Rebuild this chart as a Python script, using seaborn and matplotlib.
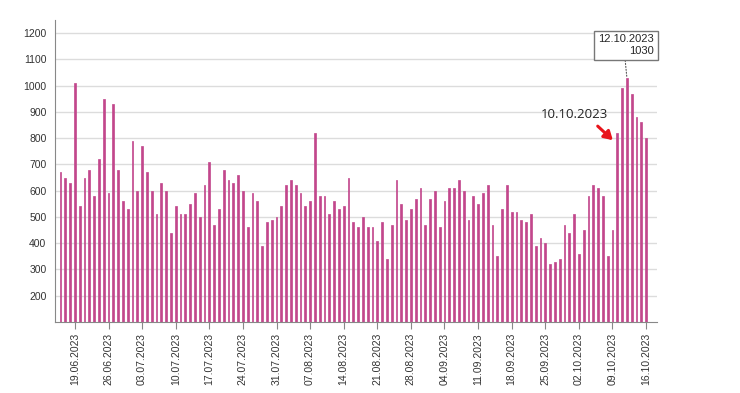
import pandas as pd
import matplotlib.pyplot as plt
import seaborn as sns

# daily counts, 16.06.2023 - 16.10.2023
start_date = "2023-06-16"
end_date = "2023-10-16"
values = [
    670, 650, 630, 1010, 540, 650, 680, 580, 720, 950, 590, 930, 680, 560, 530, 790, 600,
    770, 670, 600, 510, 630, 600, 440, 540, 510, 510, 550, 590, 500, 620, 710, 470, 530,
    680, 640, 630, 660, 600, 460, 590, 560, 390, 480, 490, 500, 540, 620, 640, 620, 590,
    540, 560, 820, 580, 580, 510, 560, 530, 540, 650, 480, 460, 500, 460, 460, 410,
    480, 340, 470, 640, 550, 490, 530, 570, 610, 470, 570, 600, 460, 560, 610, 610, 640,
    600, 490, 580, 550, 590, 620, 470, 350, 530, 620, 520, 520, 490, 480, 510, 390, 420, 400,
    320, 330, 340, 470, 440, 510, 360, 450, 580, 620, 610, 580, 350, 450, 820, 990, 1030,
    970, 880, 860, 800,
]
y_ticks = [200, 300, 400, 500, 600, 700, 800, 900, 1000, 1100, 1200]
marked_day = "10.10.2023"
peak_day = "12.10.2023"

dates = pd.date_range(start_date, end_date, freq="D")
df = pd.DataFrame({"date": dates.strftime("%d.%m.%Y"), "count": values})

sns.set_style("white")
plt.rcParams["font.family"] = ["Liberation Sans", "DejaVu Sans"]

fig = plt.figure(figsize=(7.4, 3.93), dpi=100)
ax = fig.add_axes([0.074, 0.181, 0.814, 0.768])

ax.yaxis.grid(True, color="#dcdcdc", linewidth=1)
ax.set_axisbelow(True)
sns.barplot(data=df, x="date", y="count", color="#c2478c", width=0.36,
            saturation=1, edgecolor="#c2478c", linewidth=0.5, ax=ax)

ax.set_ylim(100, 1250)
ax.set_xlim(-1.2, 124.3)
ax.set_yticks(y_ticks)
ax.tick_params(axis="y", labelsize=7.5, length=4, color="#888888", pad=2,
               labelcolor="#333333")

# weekly ticks on Mondays
mondays = [i for i, d in enumerate(dates) if d.weekday() == 0]
ax.set_xticks(mondays)
ax.set_xticklabels([df["date"][i] for i in mondays], rotation=90, fontsize=7.5)
ax.tick_params(axis="x", length=5, color="#888888", pad=3, bottom=True,
               labelcolor="#333333")

ax.set_xlabel("")
ax.set_ylabel("")
sns.despine(ax=ax)
for s in ["left", "bottom"]:
    ax.spines[s].set_color("#888888")

# peak tooltip box
peak_i = list(df["date"]).index(peak_day)
ax.annotate(f"{peak_day}\n{values[peak_i]}", xy=(peak_i, values[peak_i]),
            xytext=(123.6, 1195), textcoords="data", ha="right", va="top",
            multialignment="right", fontsize=8,
            bbox=dict(boxstyle="square,pad=0.35", fc="white", ec="#777777", lw=1),
            arrowprops=dict(arrowstyle="-", linestyle=":", color="#555555", lw=0.8,
                            shrinkA=0, shrinkB=0, relpos=(0.48, 0)))

# marked day with red arrow
mark_i = list(df["date"]).index(marked_day)
ax.annotate("", xy=(mark_i - 0.5, values[mark_i] - 35), xytext=(mark_i - 4.5, 853),
            arrowprops=dict(arrowstyle="-|>,head_length=0.5,head_width=0.3",
                            color="#e8141b", lw=2.2))
ax.text(mark_i - 9, 891, marked_day, ha="center", va="center", fontsize=9.5,
        family=["Open Sans", "DejaVu Sans"], color="#222222")

fig.savefig("out.png", dpi=100)
